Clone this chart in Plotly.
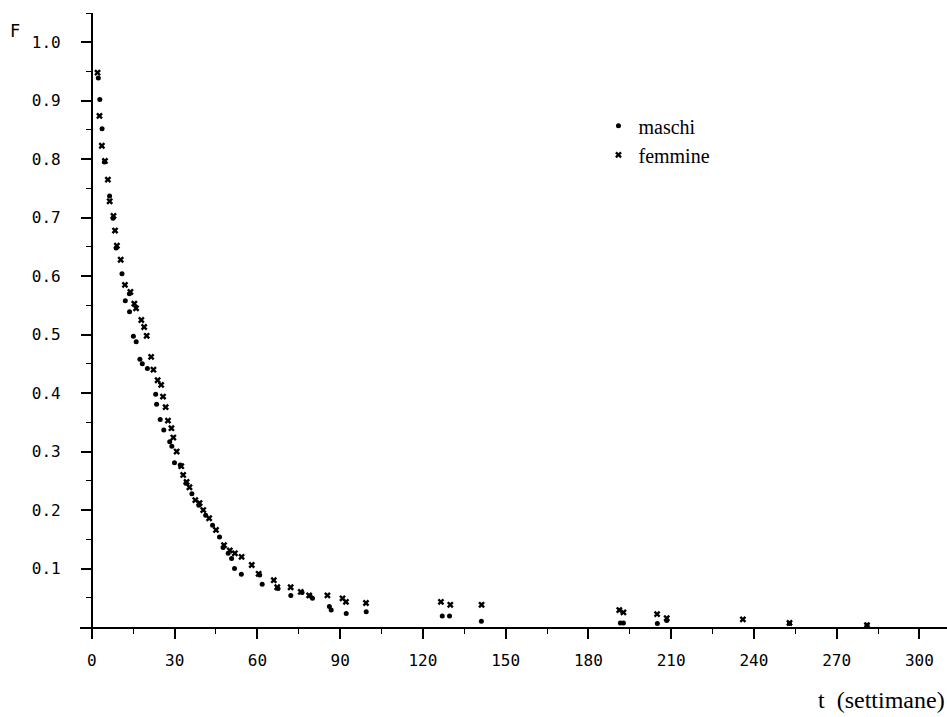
import plotly.graph_objects as go

# Data (t in weeks, F survival fraction)
maschi_t = [2.35, 2.88, 3.70, 4.59, 6.42, 7.68, 8.79, 10.92, 13.62, 12.12, 13.66, 15.05, 16.07,
            17.41, 18.28, 20.13, 23.13, 23.46, 24.78, 26.06, 28.22, 28.99, 29.95, 32.04, 34.11,
            36.26, 38.78, 41.25, 43.76, 46.28, 47.56, 49.42, 50.66, 51.72, 54.19, 60.84, 61.74,
            67.47, 72.12, 76.20, 79.12, 79.98, 86.10, 86.75, 92.21, 99.45, 127.02, 129.66,
            141.2, 191.6, 192.7, 205.0, 208.4, 252.9, 281.0]
maschi_F = [0.939, 0.902, 0.852, 0.795, 0.737, 0.699, 0.648, 0.604, 0.570, 0.558, 0.539, 0.497,
            0.488, 0.458, 0.450, 0.442, 0.398, 0.381, 0.355, 0.337, 0.317, 0.309, 0.281, 0.277,
            0.246, 0.228, 0.208, 0.191, 0.174, 0.154, 0.136, 0.126, 0.117, 0.100, 0.090, 0.089,
            0.073, 0.066, 0.054, 0.059, 0.053, 0.049, 0.035, 0.029, 0.023, 0.026, 0.019, 0.019,
            0.010, 0.007, 0.007, 0.006, 0.011, 0.006, 0.003]

femmine_t = [2.05, 2.76, 3.62, 4.75, 5.81, 6.46, 7.84, 8.40, 9.07, 10.45, 11.99, 13.97, 15.40,
             16.02, 17.93, 18.96, 19.87, 21.49, 22.32, 23.85, 25.12, 25.80, 26.75, 27.59, 28.84,
             29.53, 30.74, 32.41, 33.10, 34.35, 35.37, 37.50, 39.05, 40.38, 42.51, 45.0, 47.91,
             50.01, 51.85, 54.27, 57.96, 60.46, 65.95, 67.20, 72.06, 75.72, 78.76, 85.39, 90.86,
             92.11, 99.37, 126.54, 129.94, 141.28, 191.2, 192.7, 204.9, 208.4, 236.0, 252.9, 281.0]
femmine_F = [0.948, 0.874, 0.823, 0.797, 0.765, 0.728, 0.703, 0.678, 0.652, 0.628, 0.585, 0.573,
             0.553, 0.545, 0.525, 0.513, 0.498, 0.462, 0.440, 0.422, 0.414, 0.394, 0.376, 0.353,
             0.340, 0.324, 0.300, 0.275, 0.260, 0.248, 0.239, 0.217, 0.212, 0.200, 0.186, 0.166,
             0.140, 0.131, 0.126, 0.120, 0.106, 0.091, 0.080, 0.068, 0.068, 0.060, 0.054, 0.054,
             0.049, 0.043, 0.041, 0.043, 0.038, 0.038, 0.029, 0.025, 0.022, 0.015, 0.013, 0.007,
             0.003]

x_ticks = [0, 30, 60, 90, 120, 150, 180, 210, 240, 270, 300]
y_ticks = [0.1, 0.2, 0.3, 0.4, 0.5, 0.6, 0.7, 0.8, 0.9, 1.0]
y_ticktext = ["0.1", "0.2", "0.3", "0.4", "0.5", "0.6", "0.7", "0.8", "0.9", "1.0"]

X_MIN, X_MAX = -4.3, 310
tick_font = dict(family="DejaVu Sans Mono", size=16, color="black")
serif = "Liberation Serif, Times New Roman, serif"

fig = go.Figure()
fig.add_trace(go.Scatter(x=maschi_t, y=maschi_F, mode="markers", name="maschi",
                         marker=dict(symbol="circle", size=5, color="black")))
fig.add_trace(go.Scatter(x=femmine_t, y=femmine_F, mode="markers", name="femmine",
                         marker=dict(symbol="x", size=6, color="black")))

fig.update_layout(
    width=947, height=717,
    margin=dict(l=80, r=0, t=13, b=90),
    paper_bgcolor="white", plot_bgcolor="white",
    showlegend=True,
    legend=dict(x=0.598, y=0.848, xanchor="left", yanchor="top",
                font=dict(family=serif, size=20, color="black"),
                bgcolor="rgba(0,0,0,0)", itemwidth=30, tracegroupgap=0),
    xaxis=dict(range=[X_MIN, X_MAX], tickvals=x_ticks, ticktext=[str(v) for v in x_ticks],
               showgrid=False, zeroline=False, showline=True, linecolor="black", linewidth=1.5,
               ticks="outside", ticklen=10, tickwidth=1.5, tickcolor="black",
               ticklabelstandoff=8, tickfont=tick_font,
               minor=dict(dtick=15, tick0=0, ticks="outside", ticklen=5, tickcolor="black",
                          tickwidth=1.2)),
    yaxis=dict(range=[0, 1.05], tickvals=y_ticks, ticktext=y_ticktext,
               anchor="free", position=(0 - X_MIN) / (X_MAX - X_MIN),
               showgrid=False, zeroline=False, showline=True, linecolor="black", linewidth=2,
               ticks="outside", ticklen=10, tickwidth=1.5, tickcolor="black",
               ticklabelstandoff=17, tickfont=tick_font,
               minor=dict(dtick=0.05, tick0=0, ticks="outside", ticklen=5, tickcolor="black",
                          tickwidth=1.2)),
    annotations=[
        dict(text="F", xref="paper", yref="paper", x=(15 - 80) / 867, y=(627 - 31) / 614,
             xanchor="center", yanchor="middle", showarrow=False,
             font=dict(family="DejaVu Sans Mono", size=17, color="black")),
        dict(text="t&nbsp;&nbsp;(settimane)", xref="paper", yref="paper", x=1.0,
             y=(627 - 700) / 614, xanchor="right", yanchor="middle", showarrow=False,
             font=dict(family=serif, size=24, color="black")),
    ],
)

fig.write_html("out.html")
